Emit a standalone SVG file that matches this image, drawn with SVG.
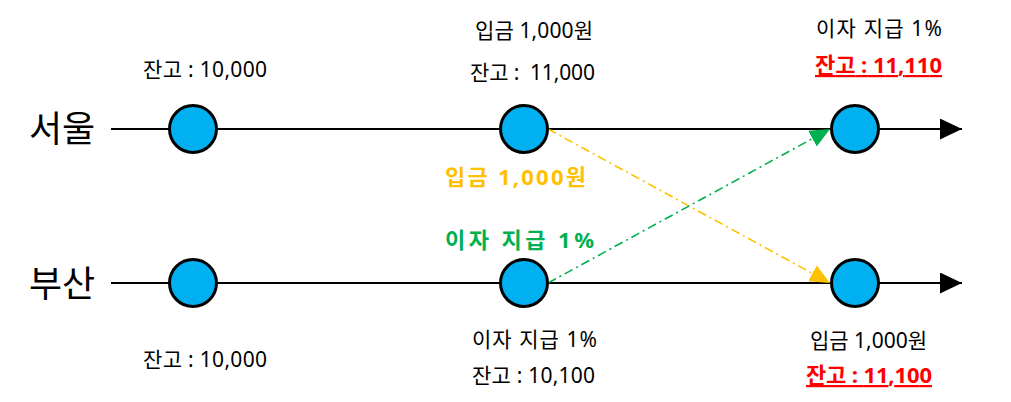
<svg xmlns="http://www.w3.org/2000/svg" width="1011" height="402" viewBox="0 0 1011 402">
<style>
text{font-family:"Noto Sans","Noto Sans CJK KR",sans-serif;text-anchor:middle;fill:#000}
.lbl{font-size:21px}
.city{font-size:36px}
.bold{font-weight:bold;font-size:22px}
.red{fill:#FF0000;text-decoration:underline}
.orange{fill:#FFC000}
.green{fill:#00B050}
.node{fill:#00B0F0;stroke:#000;stroke-width:3}
.tl{stroke:#000;stroke-width:2.2;fill:none}
.dd{stroke-width:1.6;fill:none;stroke-dasharray:9 4 2 4}
</style>
<defs>
<marker id="ah" viewBox="0 0 22 21" refX="22" refY="10.5" markerWidth="22" markerHeight="21" markerUnits="userSpaceOnUse" orient="auto"><path d="M0,0 L22,10.5 L0,21 Z" fill="#000"/></marker>
<marker id="ao" viewBox="0 0 20 18" refX="20" refY="9" markerWidth="20" markerHeight="18" markerUnits="userSpaceOnUse" orient="auto"><path d="M0,0 L20,9 L0,18 Z" fill="#FFC000"/></marker>
<marker id="ag" viewBox="0 0 20 18" refX="20" refY="9" markerWidth="20" markerHeight="18" markerUnits="userSpaceOnUse" orient="auto"><path d="M0,0 L20,9 L0,18 Z" fill="#00B050"/></marker>
</defs>
<g id="connectors">
<line class="tl" x1="111" y1="129" x2="962" y2="129" marker-end="url(#ah)"/>
<line class="tl" x1="111" y1="283" x2="962" y2="283" marker-end="url(#ah)"/>
<line class="dd" stroke="#FFC000" x1="548" y1="129" x2="830" y2="283" marker-end="url(#ao)"/>
<line class="dd" stroke="#00B050" x1="548" y1="283" x2="830" y2="129" marker-end="url(#ag)"/>
</g>
<g id="label-seoul"><text class="city" x="62" y="142">서울</text></g>
<g id="label-busan"><text class="city" x="62" y="297">부산</text></g>
<g id="seoul-1"><circle class="node" cx="193" cy="129" r="23.5"/><text class="lbl" x="205" y="77" textLength="124">잔고 : 10,000</text></g>
<g id="seoul-2"><circle class="node" cx="524" cy="129" r="23.5"/><text class="lbl" x="534" y="38" textLength="118">입금 1,000원</text><text class="lbl" x="532.5" y="80" textLength="125" xml:space="preserve">잔고 :  11,000</text></g>
<g id="seoul-3"><circle class="node" cx="855" cy="129" r="23.5"/><text class="lbl" x="879" y="36" textLength="126">이자 지급 1%</text><text class="lbl bold red" x="878.5" y="73" textLength="127">잔고 : 11,110</text></g>
<g id="busan-1"><circle class="node" cx="193" cy="283" r="23.5"/><text class="lbl" x="205" y="367" textLength="124">잔고 : 10,000</text></g>
<g id="busan-2"><circle class="node" cx="524" cy="283" r="23.5"/><text class="lbl" x="534.5" y="347" textLength="125">이자 지급 1%</text><text class="lbl" x="533.5" y="383" textLength="123">잔고 : 10,100</text></g>
<g id="busan-3"><circle class="node" cx="855" cy="283" r="23.5"/><text class="lbl" x="868.5" y="348" textLength="117">입금 1,000원</text><text class="lbl bold red" x="869" y="383" textLength="126">잔고 : 11,100</text></g>
<g id="transfer-labels"><text class="lbl bold orange" x="515.5" y="185" textLength="141">입금 1,000원</text><text class="lbl bold green" x="519.5" y="248" textLength="149">이자 지급 1%</text></g>
</svg>
